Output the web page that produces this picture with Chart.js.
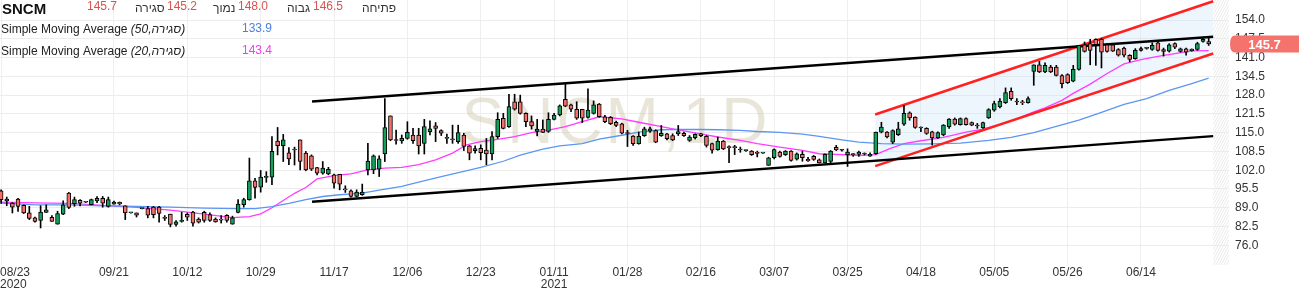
<!DOCTYPE html>
<html>
<head>
<meta charset="utf-8">
<script src="https://cdn.jsdelivr.net/npm/chart.js@4.4.1/dist/chart.umd.min.js"></script>
<style>
  html, body { margin: 0; padding: 0; background: #fff; }
</style>
</head>
<body>
<canvas id="chart" width="1299" height="293"></canvas>
<script>
// daily candles, 23/08/2020 .. end of 06/2021 (one entry per trading day)
const openP = [94.9,92.0,90.6,92.0,89.8,87.2,85.5,84.6,87.4,85.7,83.3,86.8,94.1,90.4,91.6,90.9,90.1,91.4,92.3,89.5,
  90.2,90.9,89.7,87.2,87.2,88.7,88.7,89.2,89.2,85.5,86.8,83.2,84.3,86.7,87.5,85.1,87.4,86.6,85.1,84.9,
  86.4,83.3,87.4,90.1,91.8,98.3,96.1,99.5,99.6,112.1,110.5,108.0,109.2,112.5,107.9,107.0,102.9,101.0,100.7,100.4,
  100.6,95.3,94.9,92.9,93.5,102.1,102.1,102.4,107.6,120.8,112.5,112.1,113.0,114.2,114.2,111.3,115.3,117.4,115.7,113.1,
  112.5,111.9,114.2,110.4,108.8,109.6,109.0,107.6,113.6,120.0,117.1,125.7,125.7,121.7,118.8,115.4,116.2,115.4,119.6,121.1,
  126.5,124.6,123.1,123.1,120.3,121.7,124.9,120.5,120.3,118.6,118.1,114.9,113.8,111.2,114.0,115.5,115.7,114.0,114.6,114.0,
  114.6,114.8,112.3,113.3,114.6,113.7,111.2,109.1,112.1,109.9,110.0,109.1,108.8,108.6,107.9,107.9,103.7,106.3,108.3,107.4,
  108.6,105.8,107.5,105.8,106.8,105.6,104.5,105.0,109.9,108.9,107.3,107.6,107.5,107.6,106.9,107.7,115.2,115.2,111.7,114.3,
  117.9,121.9,120.4,116.7,116.5,115.3,113.2,114.2,117.0,119.7,117.8,119.9,118.5,117.4,116.7,120.1,122.8,123.9,125.4,129.3,
  125.7,125.4,125.4,136.2,138.5,136.0,137.7,137.7,134.8,135.1,132.8,136.9,145.4,145.8,147.3,147.3,145.4,145.4,143.8,144.3,
  141.8,140.6,143.5,144.3,143.8,146.1,143.8,143.2,145.8,143.1,144.0,143.4,143.8,146.6,146.5];
const highP = [95.2,92.7,90.8,92.3,90.0,89.5,85.8,89.7,90.0,86.3,87.8,91.4,94.3,92.7,91.8,91.0,92.0,92.9,92.9,92.7,
  91.3,91.0,89.7,87.3,87.2,88.8,89.5,89.5,89.5,86.3,86.8,84.6,87.4,87.2,87.8,85.5,87.8,87.2,85.5,86.3,
  86.6,86.1,91.8,92.3,106.2,99.2,101.9,101.5,113.6,116.8,114.4,109.8,110.0,112.5,108.5,107.3,103.0,105.0,103.0,100.7,
  100.6,96.6,95.2,95.2,97.2,111.3,107.3,107.0,126.8,120.8,115.9,114.2,118.8,116.5,116.5,119.6,119.1,118.5,116.0,114.5,
  117.6,117.6,114.8,110.6,110.4,110.8,113.0,115.4,121.9,121.7,128.3,128.3,128.0,121.9,120.8,119.6,119.4,121.9,121.7,124.6,
  132.0,124.9,125.7,123.1,130.2,126.0,125.1,121.0,120.6,119.0,118.3,115.8,114.0,115.2,116.9,116.9,116.0,117.5,114.8,114.6,
  117.5,115.2,114.0,114.6,114.8,114.0,111.4,113.5,112.3,110.4,110.6,110.0,109.0,108.8,108.6,108.0,106.5,109.4,108.6,108.8,
  108.8,108.0,108.6,106.5,107.1,105.9,107.7,108.8,110.6,109.2,109.4,107.8,108.6,108.0,108.0,115.2,118.6,115.4,116.0,118.6,
  124.5,122.2,120.5,117.0,116.7,115.5,115.3,117.8,119.9,120.1,120.1,120.1,118.7,118.2,118.7,123.3,125.9,126.8,130.5,130.5,
  126.8,126.2,127.4,138.5,139.7,139.2,138.3,138.3,135.1,135.4,138.3,145.2,146.4,147.3,147.5,147.7,145.8,145.8,144.1,144.6,
  142.0,144.1,144.6,144.5,146.1,146.6,144.3,145.8,146.1,144.3,144.3,144.0,146.3,148.0,148.0];
const lowP = [90.5,89.7,87.2,87.7,87.0,84.9,84.0,82.0,87.4,84.3,83.3,86.6,88.7,89.5,89.6,90.8,90.0,90.8,89.2,89.2,
  90.2,90.0,84.9,87.1,85.8,88.6,85.5,85.5,84.0,84.6,82.4,82.6,84.0,84.6,82.6,83.7,84.0,84.3,84.0,83.7,
  84.0,83.3,87.2,89.2,91.6,92.3,94.4,97.8,97.0,107.3,105.0,103.9,103.8,102.1,101.8,101.9,100.4,100.6,100.4,95.8,
  95.2,94.3,92.7,92.7,93.3,100.4,100.8,99.8,105.0,112.2,111.0,111.3,112.7,111.3,107.6,107.6,114.2,111.9,114.0,111.3,
  111.3,111.3,108.8,105.6,107.9,105.6,103.9,105.6,113.0,116.3,116.8,122.8,121.4,117.1,116.2,113.9,115.0,115.1,119.4,120.8,
  124.0,122.3,119.6,118.5,120.0,121.4,120.3,118.5,117.8,117.1,114.6,110.2,110.6,111.0,113.7,115.1,111.5,113.7,112.5,112.2,
  114.0,113.7,112.0,112.8,113.6,110.0,107.9,108.9,109.1,104.6,107.4,108.2,108.5,107.1,106.6,107.8,103.7,105.9,106.5,107.1,
  105.1,105.5,105.1,105.0,105.4,104.5,104.5,104.5,108.8,108.6,103.3,106.8,106.8,107.3,106.8,107.5,114.9,113.2,111.2,114.0,
  117.5,119.3,116.5,115.3,114.4,110.7,113.0,113.9,116.5,117.6,117.6,117.6,117.4,116.5,116.5,119.9,122.4,123.6,125.1,126.2,
  124.7,124.7,125.2,131.4,135.8,135.8,135.8,134.6,130.5,132.0,132.6,136.6,142.9,138.5,138.3,137.4,142.9,143.1,141.5,141.2,
  139.5,140.4,143.2,143.9,143.5,143.2,141.5,142.9,144.1,142.9,141.8,143.2,143.5,146.3,145.2];
const closeP = [91.8,91.4,89.2,89.5,87.2,85.3,84.3,87.5,88.3,84.3,87.0,90.0,89.1,91.8,90.6,90.9,91.8,92.3,90.6,91.8,
  91.0,90.3,87.2,87.2,86.4,88.7,86.4,86.6,87.0,85.3,83.2,84.1,84.6,85.7,83.7,84.0,84.6,84.6,84.1,84.7,
  84.6,85.5,90.3,91.8,98.3,96.0,99.6,99.7,108.5,110.5,112.5,105.9,109.0,105.0,102.1,102.4,101.0,102.7,102.3,97.5,
  97.2,95.2,92.9,94.4,94.4,105.2,107.0,105.9,116.8,112.5,112.3,113.0,115.1,112.2,110.4,117.1,116.3,116.5,114.8,113.0,
  112.6,115.0,110.2,107.9,109.5,108.1,107.6,113.6,119.6,116.5,124.0,123.1,121.7,118.8,117.3,116.2,115.1,119.6,121.1,124.3,
  124.2,123.1,120.0,120.0,122.8,124.6,120.5,118.8,118.1,117.5,114.8,114.7,111.2,113.7,116.3,116.3,111.7,114.8,112.9,112.5,
  115.4,114.0,113.5,114.4,114.0,110.6,108.9,112.1,109.4,109.8,109.8,109.0,108.8,107.4,107.8,107.9,106.3,109.1,106.8,108.6,
  105.4,107.7,106.3,105.2,105.7,104.5,107.5,108.6,109.0,108.9,108.3,107.4,108.3,107.7,107.5,115.2,116.9,113.5,115.7,116.3,
  121.7,120.1,116.8,116.6,114.7,113.2,115.0,117.6,119.7,117.9,119.9,117.8,117.6,117.3,118.5,123.0,125.1,125.9,128.9,126.8,
  125.6,125.3,126.8,138.5,136.0,138.3,136.0,134.8,132.0,132.3,136.9,145.2,143.1,143.5,145.5,142.9,143.1,143.2,141.8,141.8,
  140.4,143.5,144.1,144.2,145.2,143.5,143.1,145.4,144.6,144.0,142.9,143.9,145.8,147.3,145.7];

// moving averages (bar index, value)
const sma50Idx = [0,6,12,18,24,30,36,42,45,48,51,54,57,60,64,67,71,74,78,82,85,89,92,96,99,103,106,110,113,117,120,124,127,131,134,138,142,145,149,152,156,160,165,170,175,179,183,187,191,195,199,203,207,211,214];
const sma50Val = [90.6,90.0,90.0,89.7,89.5,89.2,88.9,88.7,88.7,89.4,90.5,91.8,92.9,93.5,94.1,95.1,96.4,97.9,99.8,101.6,103.0,105.1,107.2,109.3,110.4,111.2,112.8,114.1,115.2,116.0,116.1,116.1,116.0,115.8,115.4,115.1,114.5,113.7,112.5,111.7,111.2,111.0,111.1,111.4,112.3,113.4,115.0,117.2,119.3,122.0,124.8,126.8,129.6,132.0,133.9];
const sma20Idx = [0,6,12,18,24,30,36,41,44,46,48,50,52,54,56,59,62,65,68,71,74,77,80,82.5,85,88,91,94,97,100,103,106,110,113,117,120,124,127,131,134,138,142,145,149,152,155,157.5,160,163,167,171,174,177,180,183,185,188,190,193,196,199,202,205,208,211,214];
const sma20Val = [90.9,90.7,90.5,89.8,89.1,88.2,86.8,85.6,85.9,86.9,89.0,91.5,94.0,96.0,99.0,100.1,100.7,102.1,102.7,103.0,103.9,105.6,107.9,110.8,111.9,112.7,113.6,115.0,115.9,117.1,118.8,120.5,119.8,118.6,117.1,116.0,114.6,113.5,112.3,111.2,110.0,108.9,107.7,107.4,107.1,107.4,109.5,111.2,112.2,113.4,115.2,116.2,117.9,119.8,122.2,123.6,126.2,128.6,131.8,135.5,138.8,140.3,141.4,142.4,143.3,143.4];

// trend lines drawn on the chart: [bar index, price] end points
const channelTop = [[55.1, 125.8], [214.8, 148.2]];
const channelBottom = [[55.1, 91.1], [214.8, 113.8]];
const redTop = [[154.9, 121.3], [214.8, 160.5]];
const redBottom = [[154.9, 103.4], [214.8, 142.4]];

// axis ticks
const xTickIdx = [0,20,33,46,59,72,85,98,111,124,137,150,163,176,189,202];
const xTickLabels = [['08/23','2020'],['09/21'],['10/12'],['10/29'],['11/17'],['12/06'],['12/23'],['01/11','2021'],['01/28'],['02/16'],['03/07'],['03/25'],['04/18'],['05/05'],['05/26'],['06/14']];
const yTicks = [76.0,82.5,89.0,95.5,102.0,108.5,115.0,121.5,128.0,134.5,141.0,147.5,154.0];

const UP = '#14a05c', DOWN = '#f2706a';
const FONT = '"Liberation Sans", Arial, sans-serif';
const last = closeP.length - 1;

const idx = closeP.map((_, i) => i);
const pts = (a) => a.map(p => ({ x: p[0], y: p[1] }));

const decor = {
  id: 'decor',
  beforeDatasetsDraw(chart) {
    const { ctx, chartArea: a, scales: { x } } = chart;
    ctx.save();
    // watermark
    ctx.font = '64px ' + FONT;
    ctx.fillStyle = 'rgba(200,190,160,0.4)';
    ctx.textAlign = 'center';
    ctx.textBaseline = 'alphabetic';
    ctx.letterSpacing = '3px';
    ctx.fillText('SNCM,1D', 616, 143);
    ctx.letterSpacing = '0px';
    // hatched future zone
    const fx = x.getPixelForValue(redTop[1][0]);
    ctx.beginPath();
    ctx.rect(fx, a.top, a.right - fx, a.bottom - a.top);
    ctx.clip();
    ctx.strokeStyle = '#ebebeb';
    ctx.lineWidth = 1;
    for (let k = a.top - 40; k < a.bottom + 40; k += 5) {
      ctx.beginPath();
      ctx.moveTo(fx, k + 30);
      ctx.lineTo(a.right, k);
      ctx.stroke();
    }
    ctx.restore();
  },
  afterDraw(chart) {
    const { ctx, chartArea: a, scales: { x, y } } = chart;
    ctx.save();
    // x labels
    ctx.font = '12px ' + FONT;
    ctx.fillStyle = '#333';
    ctx.textBaseline = 'middle';
    ctx.textAlign = 'left';
    xTickIdx.forEach((v, k) => {
      const px = x.getPixelForValue(v);
      xTickLabels[k].forEach((t, j) => {
        const w = ctx.measureText(t).width;
        const left = Math.max(0, px - w / 2);
        ctx.fillText(t, left, a.bottom + 8 + j * 12);
      });
    });
    // last price tag
    const py = y.getPixelForValue(closeP[last]);
    const tx = a.right + 1, tw = chart.width - tx, th = 17;
    ctx.fillStyle = '#f4736c';
    ctx.beginPath();
    ctx.moveTo(tx + 5, py - th / 2);
    ctx.lineTo(tx + tw, py - th / 2);
    ctx.lineTo(tx + tw, py + th / 2);
    ctx.lineTo(tx + 5, py + th / 2);
    ctx.quadraticCurveTo(tx, py + th / 2, tx, py);
    ctx.quadraticCurveTo(tx, py - th / 2, tx + 5, py - th / 2);
    ctx.fill();
    ctx.fillStyle = '#fff';
    ctx.font = 'bold 13px ' + FONT;
    ctx.textAlign = 'center';
    ctx.fillText(closeP[last].toFixed(1), tx + tw / 2, py + 1);

    // header
    ctx.textAlign = 'left';
    ctx.textBaseline = 'alphabetic';
    ctx.fillStyle = '#111';
    ctx.font = 'bold 15px ' + FONT;
    ctx.fillText('SNCM', 2, 14);
    const items = [
      ['סגירה', closeP[last], 87, 135],
      ['נמוך', lowP[last], 167, 213],
      ['גבוה', highP[last], 238, 287],
      ['פתיחה', openP[last], 313, 362]
    ];
    items.forEach(([lab, val, vx, lx]) => {
      ctx.font = '12px ' + FONT;
      ctx.fillStyle = '#d9534f';
      ctx.fillText(val.toFixed(1), vx, 10);
      ctx.fillStyle = '#333';
      ctx.fillText(lab, lx, 12);
    });
    const rows = [
      ['50', sma50Val[sma50Val.length - 1], '#4f7fdc', 33],
      ['20', sma20Val[sma20Val.length - 1], '#f03cf0', 55]
    ];
    rows.forEach(([n, val, col, by]) => {
      ctx.font = '12px ' + FONT;
      ctx.fillStyle = '#222';
      const s = 'Simple Moving Average ';
      ctx.fillText(s, 1, by);
      const w = ctx.measureText(s).width;
      ctx.font = 'italic 12px ' + FONT;
      ctx.fillText('(' + n + ',סגירה)', 1 + w, by);
      ctx.font = '12px ' + FONT;
      ctx.fillStyle = col;
      ctx.fillText(val.toFixed(1), 242, by - 1);
    });
    ctx.restore();
  }
};

new Chart(document.getElementById('chart'), {
  type: 'bar',
  data: {
    datasets: [
      {
        type: 'bar',
        label: 'body',
        data: idx.map(i => ({ x: i, y: [Math.min(openP[i], closeP[i]), Math.max(openP[i], closeP[i])] })),
        backgroundColor: idx.map(i => closeP[i] >= openP[i] ? UP : DOWN),
        borderColor: '#000',
        borderWidth: 1,
        borderSkipped: false,
        barThickness: 4,
        minBarLength: 1,
        grouped: false,
        order: 0
      },
      {
        type: 'bar',
        label: 'wick',
        data: idx.map(i => ({ x: i, y: [lowP[i], highP[i]] })),
        backgroundColor: '#000',
        barThickness: 1,
        grouped: false,
        order: 1
      },
      {
        type: 'line', label: 'channel top', data: pts(channelTop),
        borderColor: '#000', borderWidth: 2.5, pointRadius: 0, order: 2
      },
      {
        type: 'line', label: 'channel bottom', data: pts(channelBottom),
        borderColor: '#000', borderWidth: 2.5, pointRadius: 0, order: 2
      },
      {
        type: 'line', label: 'red top', data: pts(redTop),
        borderColor: '#ff2020', borderWidth: 2.5, pointRadius: 0, order: 2
      },
      {
        type: 'line', label: 'red bottom', data: pts(redBottom),
        borderColor: '#ff2020', borderWidth: 2.5, pointRadius: 0, order: 2,
        fill: '-1', backgroundColor: 'rgba(200,225,248,0.3)'
      },
      {
        type: 'line', label: 'SMA 50', data: sma50Idx.map((v, k) => ({ x: v, y: sma50Val[k] })),
        borderColor: '#5b97f2', borderWidth: 1.3, pointRadius: 0, order: 3
      },
      {
        type: 'line', label: 'SMA 20', data: sma20Idx.map((v, k) => ({ x: v, y: sma20Val[k] })),
        borderColor: '#ff3cff', borderWidth: 1.3, pointRadius: 0, order: 3
      }
    ]
  },
  options: {
    responsive: false,
    animation: false,
    layout: { padding: 0 },
    plugins: {
      legend: { display: false },
      tooltip: { enabled: false },
      filler: { drawTime: 'beforeDatasetsDraw' }
    },
    scales: {
      x: {
        type: 'linear',
        offset: false,
        min: -0.195,
        max: 217.6,
        grid: { color: '#efefef', drawTicks: false, offset: false },
        border: { display: false },
        ticks: { display: false },
        afterBuildTicks: s => { s.ticks = xTickIdx.map(v => ({ value: v })); },
        afterFit: s => { s.height = 28; s.paddingLeft = 0; s.paddingRight = 0; }
      },
      y: {
        position: 'right',
        min: 69.18,
        max: 160.93,
        grid: { color: '#ececec', drawTicks: false },
        border: { display: false },
        ticks: {
          padding: 6,
          color: '#333',
          font: { size: 12, family: FONT },
          callback: v => v.toFixed(1)
        },
        afterBuildTicks: s => { s.ticks = yTicks.map(v => ({ value: v })); },
        afterFit: s => { s.width = 70; s.paddingTop = 0; s.paddingBottom = 0; }
      }
    }
  },
  plugins: [decor]
});
</script>
</body>
</html>
